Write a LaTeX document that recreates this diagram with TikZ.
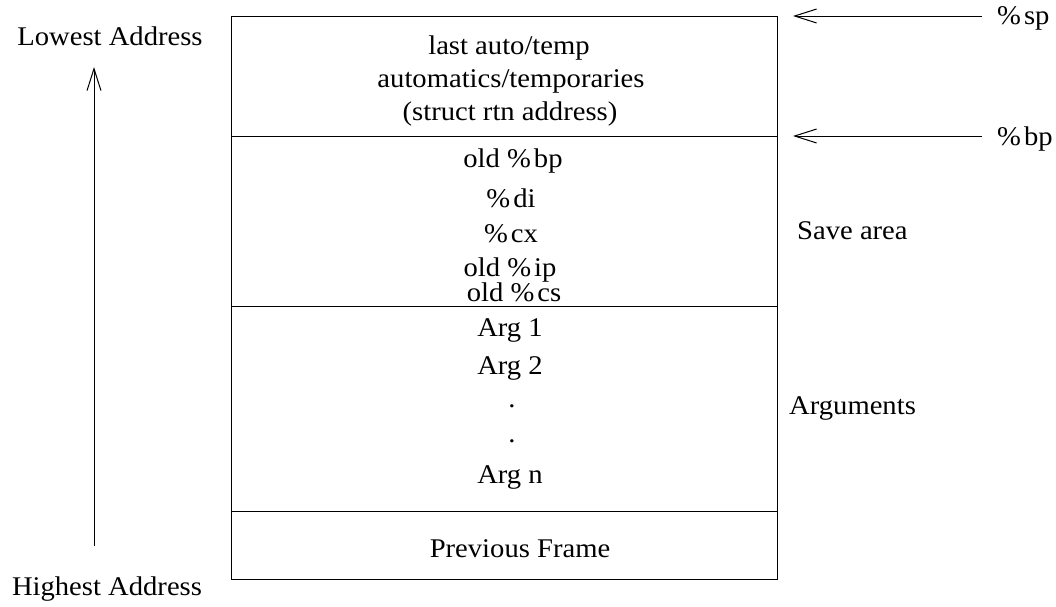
\documentclass[tikz,border=0pt]{standalone}
\usepackage{fontspec}
\setmainfont{Liberation Serif}[FakeStretch=1.06]
\usetikzlibrary{arrows.meta}
\newcommand{\pct}{\%\kern3pt}
\tikzset{
  lbl/.style={inner sep=0pt, font=\fontsize{27}{31}\selectfont},
  sect/.style={draw, line width=1pt, minimum width=546pt, inner sep=0pt},
  ptr/.style={line width=1pt, -{Straight Barb[length=22pt,width=14pt,line width=1pt]}}
}
\begin{document}
\begin{tikzpicture}[x=1pt,y=-1pt]
\useasboundingbox (0,0) rectangle (1056,606);

% stack frame sections
\node[sect, minimum height=120pt] (top)  at (504,76) {};
\node[sect, minimum height=170pt] (save) at (504,221) {};
\node[sect, minimum height=205pt] (args) at (504,408.5) {};
\node[sect, minimum height=68pt]  (prev) at (504,545) {};

% section contents
\node[lbl] (t1) at (509,48)  {last auto/temp};
\node[lbl] (t2) at (511,81)  {automatics/temporaries};
\node[lbl] (t3) at (510,114) {(struct rtn address)};

\node[lbl] (s1) at (513,161) {old \pct bp};
\node[lbl] (s2) at (511,198) {\pct di};
\node[lbl] (s3) at (511,234) {\pct cx};
\node[lbl] (s4) at (510,270) {old \pct ip};
\node[lbl] (s5) at (514,292) {old \pct cs};

\node[lbl] (a1) at (510,330) {Arg 1};
\node[lbl] (a2) at (510,368) {Arg 2};
\node[lbl] (a3) at (512,406) {.};
\node[lbl] (a4) at (512,441) {.};
\node[lbl] (a5) at (510,477) {Arg n};

\node[lbl] (pf) at (520,549) {Previous Frame};

% side labels
\node[lbl, anchor=west] (savelbl) at (797,231) {Save area};
\node[lbl, anchor=west] (arglbl)  at (789,408) {Arguments};

% address direction
\node[lbl] (low)  at (110,36)  {Lowest Address};
\node[lbl] (high) at (107,589) {Highest Address};
\coordinate (dirfrom) at (94,546);
\coordinate (dirto)   at (94,67);
\draw[ptr] (dirfrom) -- (dirto);

% register pointers
\node[lbl, anchor=west] (sp) at (997,18)  {\pct sp};
\node[lbl, anchor=west] (bp) at (997,139) {\pct bp};
\coordinate (spfrom) at (982,16);
\coordinate (spto)   at (793,16);
\coordinate (bpfrom) at (982,136);
\coordinate (bpto)   at (793,136);
\draw[ptr] (spfrom) -- (spto);
\draw[ptr] (bpfrom) -- (bpto);
\end{tikzpicture}
\end{document}
